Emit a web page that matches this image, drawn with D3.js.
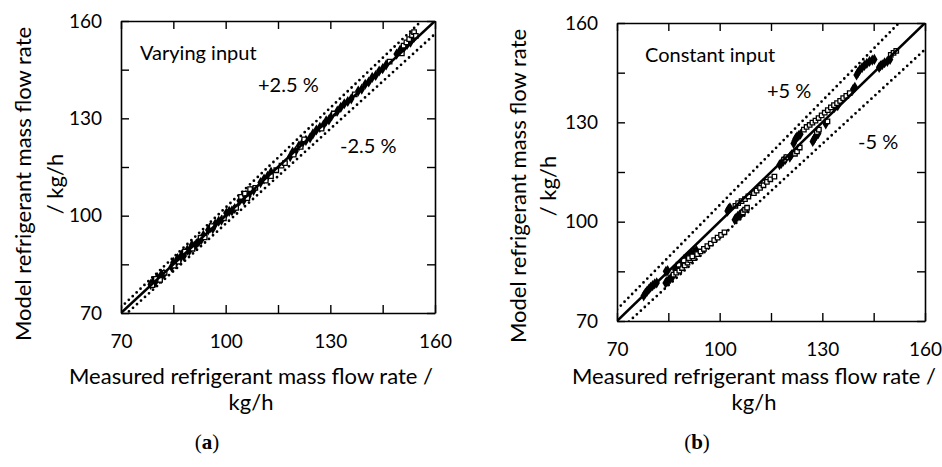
<!DOCTYPE html>
<html>
<head>
<meta charset="utf-8">
<script src="https://cdn.jsdelivr.net/npm/d3@7"></script>
<style>
  body { margin: 0; background: #fff; }
  text { font-family: Lato, "Open Sans", sans-serif; fill: #000; }
</style>
</head>
<body>
<svg class="chart"></svg>
<script>
var width = 942, height = 467;

// axis range + ticks (same for both panels)
var axisDomain = [70, 160];
var tickValues = [70, 85, 100, 115, 130, 145, 160];
var tickLabels = [70, 100, 130, 160];

// (a) varying input: [measured, model]
var varyingFilled = [
  [78.5,78.8],[79.2,79.6],[79.8,79.5],[80.4,80.9],[81.0,80.6],[81.6,81.9],[82.3,82.0],
  [84.5,84.2],[85.0,85.6],[85.6,85.2],[86.2,86.8],[86.8,86.5],[87.4,87.9],[88.0,87.6],
  [89.0,89.4],[89.6,89.2],[90.3,90.9],[91.0,90.6],[91.6,91.3],[92.3,92.0],[93.0,92.6],[93.6,93.9],
  [95.0,95.6],[95.6,96.3],[96.3,96.0],[97.0,97.4],[98.0,98.3],[98.8,98.6],
  [100.2,100.8],[101.0,101.3],[101.8,101.5],[102.6,102.2],
  [104.0,104.6],[104.6,105.4],[105.2,104.8],[105.8,106.3],[106.5,106.0],[107.2,107.6],[108.0,107.8],
  [110.0,110.2],[111.0,111.3],[112.0,112.1],[113.0,113.4],
  [118.5,118.2],[119.2,119.6],[120.0,119.8],[121.0,121.5],[122.0,122.4],[123.0,123.2],
  [124.2,124.0],[125.0,125.2],[126.0,126.4],[127.0,127.2],[128.0,127.9],[128.8,129.2],[129.6,129.5],[130.4,130.8],
  [132.0,132.2],[133.0,133.4],[134.0,134.5],[135.0,135.2],[136.0,136.0],
  [138.0,138.4],[139.0,139.0],[140.0,140.5],[141.0,141.2],
  [142.0,142.6],[143.0,143.2],[144.0,144.6],[145.0,145.3],[146.0,146.5],
  [149.0,149.8],[150.0,151.0],[151.0,151.6],[152.0,152.8],[153.0,153.5],[154.0,155.0]
];
var varyingOpen = [
  [79.0,78.6],[80.0,80.5],[81.2,80.2],[82.5,82.4],[85.2,84.6],[86.5,85.8],[88.3,88.9],[90.5,89.8],
  [92.8,93.2],[94.0,93.3],[96.0,96.8],[99.5,99.2],[103.0,102.4],[104.4,105.8],[105.5,106.8],[106.2,105.4],
  [107.0,108.2],[108.5,108.6],[111.5,110.8],[113.0,112.2],[114.5,114.0],[116.0,115.4],[117.0,116.2],
  [119.5,118.8],[121.5,121.2],[122.5,123.5],[127.5,126.8],[131.0,131.5],[137.0,137.4],[147.0,147.5],
  [150.5,150.0],[151.0,152.4],[151.8,153.4],[152.6,154.4],[153.4,155.6],[154.0,156.6],[154.5,155.4]
];

// (b) constant input: [measured, model]
var constantFilled = [
  [77.8,77.6],[78.3,78.4],[78.8,79.0],[79.3,79.6],[79.8,80.2],[80.4,80.7],[81.0,81.2],[81.6,81.5],
  [84.3,85.0],[84.8,85.2],
  [84.2,81.5],[84.6,81.9],[85.1,82.3],[85.6,82.8],[86.2,83.3],
  [87.0,85.5],[88.0,86.5],[88.5,87.3],[89.0,87.7],[89.6,88.6],[90.2,89.0],[91.0,89.6],[91.8,90.2],[92.5,90.8],[93.2,91.3],
  [102.3,103.2],[102.6,103.8],[103.0,104.2],
  [104.4,100.6],[104.8,101.1],[105.3,101.6],[105.8,102.0],[106.4,102.5],
  [117.5,117.2],[118.0,117.6],[118.6,118.3],[119.2,118.8],
  [121.6,123.6],[121.9,124.4],[122.2,125.1],[122.6,125.6],[123.1,126.0],[123.6,126.4],
  [120.5,119.5],[121.0,120.2],
  [127.2,124.2],[127.5,124.8],[127.9,125.5],[128.3,126.1],[128.8,126.6],
  [131.0,129.5],
  [133.5,134.5],[134.5,135.0],
  [139.0,140.0],[139.5,140.6],
  [140.0,144.3],[140.4,145.0],[140.9,145.8],[141.6,146.5],[142.3,147.2],[143.0,147.8],[143.8,148.4],[144.6,148.8],[145.2,149.0],
  [146.6,146.6],[147.0,147.1],[147.5,147.4],[148.2,148.0],[149.0,148.4],[149.8,149.0]
];
var constantOpen = [
  [86.5,84.0],[87.3,84.6],[88.2,85.2],[89.0,86.0],[89.8,86.8],[90.6,87.6],[91.4,88.4],[92.4,89.0],
  [93.4,90.2],[94.4,91.0],[95.4,91.8],[96.4,92.6],[97.4,93.4],[98.4,94.4],[99.4,95.2],[100.4,96.0],[101.4,96.8],
  [88.0,87.0],[89.5,88.3],[91.0,89.0],[92.0,89.5],
  [104.6,104.8],[105.4,105.6],[106.4,106.2],[107.4,106.8],[108.4,107.6],
  [106.8,102.8],[107.4,103.6],[108.0,104.2],
  [110.0,108.6],[110.8,109.4],[111.8,110.2],[112.8,111.0],[113.8,112.0],[114.8,112.8],[116.0,113.6],
  [118.8,118.7],[119.5,119.5],
  [122.0,120.5],[122.6,121.2],[123.4,122.4],
  [124.6,127.8],[125.4,128.6],[126.3,129.2],[127.1,129.9],[128.0,130.5],[128.9,131.3],[129.8,132.1],
  [130.7,132.9],[131.6,133.7],[132.5,134.5],
  [128.4,127.0],[129.0,127.8],
  [131.5,130.3],
  [133.4,135.2],[134.3,135.8],[135.2,136.5],[136.1,137.3],[137.0,138.0],[138.0,138.8],
  [150.0,150.4],[150.8,151.0],[151.6,151.6]
];

var svg = d3.select(".chart")
    .attr("width", width)
    .attr("height", height)

var panels = [
  { id: "a", filled: varyingFilled, open: varyingOpen, band: 0.025,
    left: 121, top: 21, w: 314, h: 292,
    title: "Varying input", tx: 140, ty: 60,
    plus: "+2.5  %", px: 258, py: 92, minus: "-2.5 %", mx: 340, my: 153,
    ytx: 31, ytx2: 63, yty: 184, xtx: 251, xty: 384, xty2: 410, lx: 207, ly: 449 },
  { id: "b", filled: constantFilled, open: constantOpen, band: 0.05,
    left: 617, top: 23, w: 308, h: 298,
    title: "Constant input", tx: 645, ty: 62,
    plus: "+5 %", px: 767, py: 98, minus: "-5 %", mx: 858, my: 149,
    ytx: 526, ytx2: 556, yty: 186, xtx: 754, xty: 384, xty2: 410, lx: 697, ly: 449 }
];

panels.forEach(function(p) {
  var x = d3.scaleLinear().domain(axisDomain).range([0, p.w]);
  var y = d3.scaleLinear().domain(axisDomain).range([p.h, 0]);

  var g = svg.append("g").attr("transform", "translate(" + p.left + "," + p.top + ")");

  g.append("clipPath").attr("id", "clip-" + p.id)
    .append("rect").attr("width", p.w).attr("height", p.h);

  var fmt = function(d) { return tickLabels.indexOf(d) >= 0 ? d : ""; };

  // four axes, ticks pointing inward
  g.append("g").attr("transform", "translate(0," + p.h + ")")
    .call(d3.axisBottom(x).tickValues(tickValues).tickFormat(fmt).tickSizeInner(-8).tickSizeOuter(0).tickPadding(22));
  g.append("g")
    .call(d3.axisLeft(y).tickValues(tickValues).tickFormat(fmt).tickSizeInner(-8).tickSizeOuter(0).tickPadding(19));
  g.append("g")
    .call(d3.axisTop(x).tickValues(tickValues).tickFormat("").tickSizeInner(-8).tickSizeOuter(0));
  g.append("g").attr("transform", "translate(" + p.w + ",0)")
    .call(d3.axisRight(y).tickValues(tickValues).tickFormat("").tickSizeInner(-8).tickSizeOuter(0));

  g.selectAll(".domain").attr("stroke", "#000").attr("stroke-width", 1.6);
  g.selectAll(".tick line").attr("stroke", "#000").attr("stroke-width", 1.4);
  g.selectAll(".tick text").attr("font-size", 19).attr("font-family", "Lato, sans-serif").attr("fill", "#000");

  var plot = g.append("g").attr("clip-path", "url(#clip-" + p.id + ")");

  var line = d3.line().x(function(d) { return x(d[0]); }).y(function(d) { return y(d[1]); });
  var ends = [axisDomain[0], axisDomain[1] * 1.1];

  // +/- band lines
  [1 + p.band, 1 - p.band].forEach(function(k) {
    plot.append("path")
      .attr("d", line(ends.map(function(v) { return [v, v * k]; })))
      .attr("fill", "none").attr("stroke", "#000")
      .attr("stroke-width", 2.8).attr("stroke-linecap", "round")
      .attr("stroke-dasharray", "0,5.4");
  });

  // markers
  plot.selectAll(".filled").data(p.filled).enter().append("path")
    .attr("class", "filled")
    .attr("transform", function(d) { return "translate(" + x(d[0]) + "," + y(d[1]) + ")"; })
    .attr("d", d3.symbol().type(d3.symbolDiamond).size(36))
    .attr("fill", "#000");

  plot.selectAll(".open").data(p.open).enter().append("path")
    .attr("class", "open")
    .attr("transform", function(d) { return "translate(" + x(d[0]) + "," + y(d[1]) + ")"; })
    .attr("d", d3.symbol().type(d3.symbolSquare).size(20))
    .attr("fill", "#fff").attr("stroke", "#000").attr("stroke-width", 1.3);

  // 1:1 line
  plot.append("path")
    .attr("d", line([[axisDomain[0], axisDomain[0]], [axisDomain[1], axisDomain[1]]]))
    .attr("fill", "none").attr("stroke", "#000").attr("stroke-width", 2.6);

  // annotations
  svg.append("text").attr("x", p.tx).attr("y", p.ty).attr("font-size", 20).text(p.title);
  svg.append("text").attr("x", p.px).attr("y", p.py).attr("font-size", 20).text(p.plus);
  svg.append("text").attr("x", p.mx).attr("y", p.my).attr("font-size", 20).text(p.minus);

  // axis titles
  svg.append("text").attr("text-anchor", "middle").attr("font-size", 22)
    .attr("transform", "translate(" + p.ytx + "," + p.yty + ") rotate(-90)")
    .text("Model refrigerant mass flow rate");
  svg.append("text").attr("text-anchor", "middle").attr("font-size", 22)
    .attr("transform", "translate(" + p.ytx2 + "," + p.yty + ") rotate(-90)")
    .text("/ kg/h");
  svg.append("text").attr("text-anchor", "middle").attr("font-size", 22)
    .attr("x", p.xtx).attr("y", p.xty).text("Measured refrigerant mass flow rate /");
  svg.append("text").attr("text-anchor", "middle").attr("font-size", 22)
    .attr("x", p.xtx).attr("y", p.xty2).text("kg/h");

  var lab = svg.append("text").attr("text-anchor", "middle").attr("font-size", 21)
    .attr("x", p.lx).attr("y", p.ly)
    .style("font-family", "'Liberation Serif', serif");
  lab.append("tspan").text("(");
  lab.append("tspan").attr("font-weight", "bold").text(p.id);
  lab.append("tspan").text(")");
});
</script>
</body>
</html>
